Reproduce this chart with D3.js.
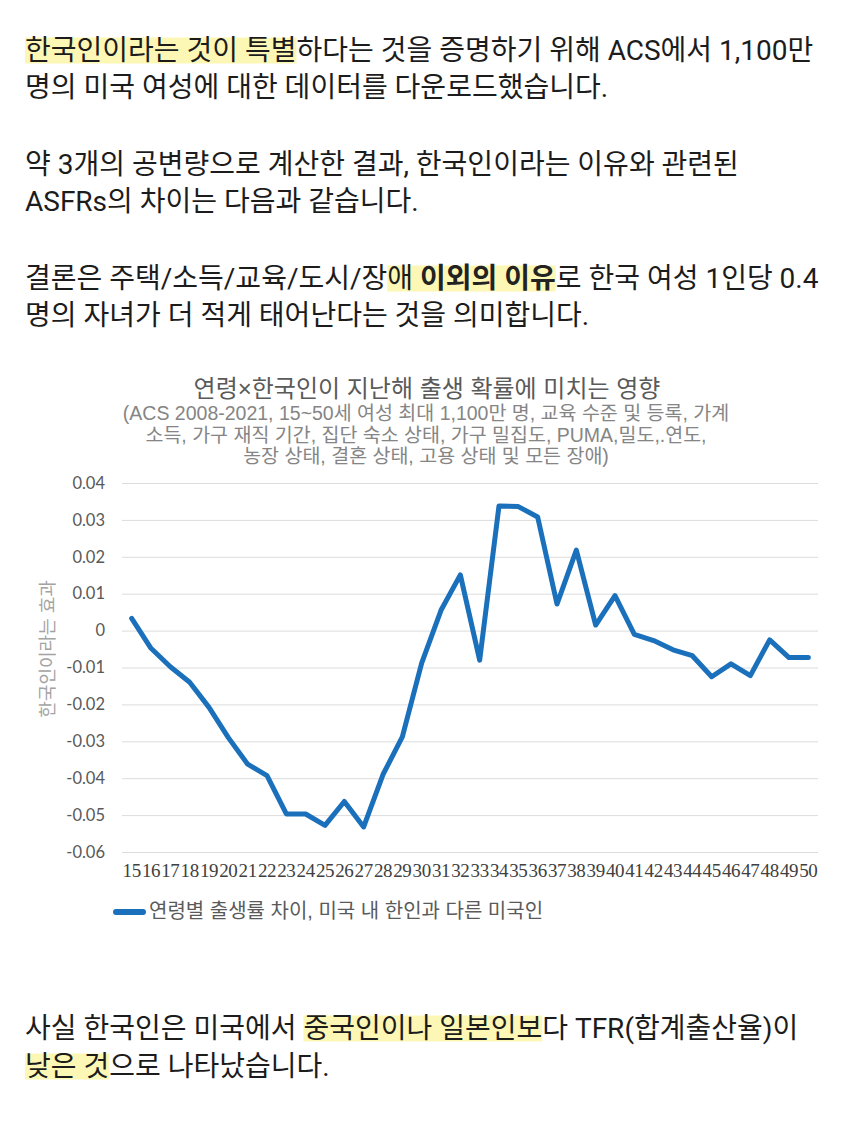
<!DOCTYPE html>
<html>
<head>
<meta charset="utf-8">
<script src="https://cdn.jsdelivr.net/npm/d3@7"></script>
<style>
  html, body { margin: 0; padding: 0; background: #fff; }
  svg { display: block; }
</style>
</head>
<body>
<div id="page"></div>
<script>
// ages on the x axis
var ages = d3.range(15, 51);
// effect of being Korean per age
var koreanEffect = [
    0.0033, -0.0048, -0.0098, -0.0140, -0.0208, -0.0290, -0.0362, -0.0393,
   -0.0497, -0.0497, -0.0528, -0.0463, -0.0532, -0.0390, -0.0288, -0.0088,
    0.0055,  0.0151, -0.0080,  0.0338,  0.0336,  0.0308,  0.0072,  0.0218,
    0.0015,  0.0095, -0.0010, -0.0027, -0.0052, -0.0068, -0.0125, -0.0090,
   -0.0122, -0.0025, -0.0073, -0.0073
];
var yTicks = [0.04, 0.03, 0.02, 0.01, 0, -0.01, -0.02, -0.03, -0.04, -0.05, -0.06];

var chartTitle = "연령×한국인이 지난해 출생 확률에 미치는 영향";
var chartSubtitle = [
    "(ACS 2008-2021, 15~50세 여성 최대 1,100만 명, 교육 수준 및 등록, 가계",
    "소득, 가구 재직 기간, 집단 숙소 상태, 가구 밀집도, PUMA,밀도,.연도,",
    "농장 상태, 결혼 상태, 고용 상태 및 모든 장애)"
];
var yLabel = "한국인이라는 효과";
var legendLabel = "연령별 출생률 차이, 미국 내 한인과 다른 미국인";

// paragraph lines, split into pieces: [text, highlighted, bold]
var topLines = [
    [["한국인이라는 것이 특별", 1, 0], ["하다는 것을 증명하기 위해 ACS에서 1,100만", 0, 0]],
    [["명의 미국 여성에 대한 데이터를 다운로드했습니다.", 0, 0]],
    null,
    [["약 3개의 공변량으로 계산한 결과, 한국인이라는 이유와 관련된", 0, 0]],
    [["ASFRs의 차이는 다음과 같습니다.", 0, 0]],
    null,
    [["결론은 주택/소득/교육/도시/장", 0, 0], ["애 ", 1, 0], ["이외의 이유", 1, 1], ["로 한국 여성 1인당 0.4", 0, 0]],
    [["명의 자녀가 더 적게 태어난다는 것을 의미합니다.", 0, 0]]
];
var bottomLines = [
    [["사실 한국인은 미국에서 ", 0, 0], ["중국인이나 일본인보", 1, 0], ["다 TFR(합계출산율)이", 0, 0]],
    [["낮은 것", 1, 0], ["으로 나타났습니다.", 0, 0]]
];

var W = 850, H = 1125;
var svg = d3.select("#page").append("svg")
    .attr("width", W)
    .attr("height", H);

var bodyFont = "Roboto, 'Noto Sans CJK KR', sans-serif";
var chartFont = "'Liberation Sans', 'Noto Sans CJK KR', sans-serif";

function drawParagraph(lines, top, lineGap, blankGap){
    var y = top;
    lines.forEach(function(line){
        if(line == null){ y += blankGap; return; }
        var g = svg.append("g");
        var hlLayer = g.append("g");
        var t = g.append("text")
            .attr("x", 25)
            .attr("y", y)
            .attr("dominant-baseline", "central")
            .style("font-family", bodyFont)
            .style("font-size", "28px")
            .style("fill", "#1c1c1c");
        line.forEach(function(p){
            var s = t.append("tspan").text(p[0]);
            if(p[2]) s.style("font-weight", "700").style("fill", "#222");
            if(p[1]) s.attr("class", "hl");
        });
        t.selectAll("tspan.hl").each(function(){
            var b = this.getBBox();
            hlLayer.append("rect")
                .attr("x", b.x)
                .attr("y", b.y + 4)
                .attr("width", b.width)
                .attr("height", b.height - 7)
                .style("fill", "#fbf07a")
                .style("opacity", 0.55);
        });
        y += lineGap;
    });
}

drawParagraph(topLines, 50, 37, 40);
drawParagraph(bottomLines, 1028, 38, 38);

// ---------- chart ----------
var plotLeft = 122, plotRight = 818, plotTop = 483, plotBottom = 852;

var x = d3.scaleBand()
    .domain(ages)
    .range([plotLeft, plotRight]);

var y = d3.scaleLinear()
    .domain([-0.06, 0.04])
    .range([plotBottom, plotTop]);

var chart = svg.append("g");

chart.append("text")
    .attr("x", 427)
    .attr("y", 388)
    .attr("text-anchor", "middle")
    .attr("dominant-baseline", "central")
    .style("font-family", chartFont)
    .style("font-size", "24px")
    .style("fill", "#5a5a5a")
    .text(chartTitle);

chart.selectAll("text.sub")
    .data(chartSubtitle)
    .enter()
    .append("text")
    .attr("class", "sub")
    .attr("x", 426)
    .attr("y", function(d, i){ return 413 + i * 21.5; })
    .attr("text-anchor", "middle")
    .attr("dominant-baseline", "central")
    .style("font-family", chartFont)
    .style("font-size", "19.5px")
    .style("fill", "#858585")
    .text(function(d){ return d; });

var fmt = function(d){ return d3.format(".2~f")(d).replace("−", "-"); };

var yAxis = d3.axisLeft(y)
    .tickValues(yTicks)
    .tickSize(-(plotRight - plotLeft))
    .tickPadding(17)
    .tickFormat(fmt);

var gy = chart.append("g")
    .attr("transform", "translate(" + plotLeft + ",0)")
    .call(yAxis);
gy.select(".domain").remove();
gy.selectAll(".tick line").style("stroke", "#dcdcdc").style("stroke-width", 1);
gy.selectAll(".tick text")
    .style("font-family", "Lato, 'Open Sans', sans-serif")
    .style("font-size", "16.5px")
    .style("fill", "#595959");

var xAxis = d3.axisBottom(x)
    .tickSize(0)
    .tickPadding(12);

var gx = chart.append("g")
    .attr("transform", "translate(0," + plotBottom + ")")
    .call(xAxis);
gx.select(".domain").remove();
gx.selectAll(".tick text")
    .style("font-family", "'Liberation Serif', serif")
    .style("font-size", "19px")
    .style("letter-spacing", "-0.4px")
    .style("fill", "#404040");

chart.append("text")
    .attr("transform", "translate(48,649) rotate(-90)")
    .attr("text-anchor", "middle")
    .attr("dominant-baseline", "central")
    .style("font-family", chartFont)
    .style("font-size", "18px")
    .style("fill", "#a3a3a3")
    .text(yLabel);

var line = d3.line()
    .x(function(d, i){ return x(ages[i]) + x.bandwidth() / 2; })
    .y(function(d){ return y(d); });

chart.append("path")
    .datum(koreanEffect)
    .attr("d", line)
    .style("fill", "none")
    .style("stroke", "#1b70bb")
    .style("stroke-width", 5)
    .style("stroke-linejoin", "round")
    .style("stroke-linecap", "round");

// legend
chart.append("line")
    .attr("x1", 116).attr("x2", 143)
    .attr("y1", 912).attr("y2", 912)
    .style("stroke", "#1b70bb")
    .style("stroke-width", 6)
    .style("stroke-linecap", "round");

chart.append("text")
    .attr("x", 149)
    .attr("y", 911)
    .attr("dominant-baseline", "central")
    .style("font-family", chartFont)
    .style("font-size", "20px")
    .style("fill", "#5a5a5a")
    .text(legendLabel);
</script>
</body>
</html>
